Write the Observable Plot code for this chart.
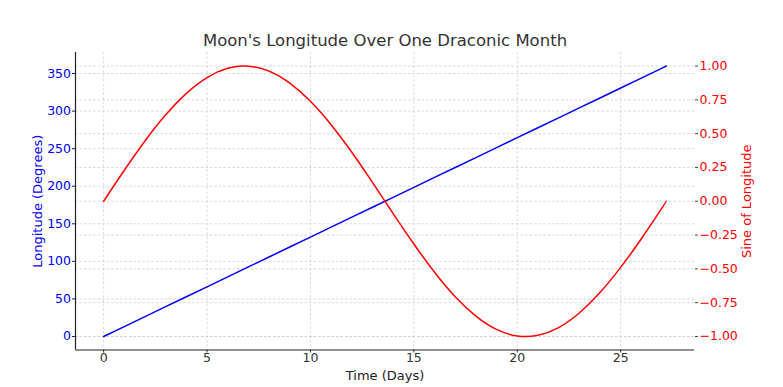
<!DOCTYPE html>
<html><head><meta charset="utf-8">
<script src="https://cdn.jsdelivr.net/npm/d3@7"></script>
<script src="https://cdn.jsdelivr.net/npm/@observablehq/plot@0.6"></script>
<style>body{margin:0;background:#fff;font-family:"DejaVu Sans",sans-serif}</style>
</head><body><div id="chart"></div>
<script>
const days = [0,1,2,3,4,5,6,7,8,9,10,11,12,13,14,15,16,17,18,19,20,21,22,23,24,25,26,27,27.21];
const longitude = [0,13.2,26.5,39.7,52.9,66.1,79.4,92.6,105.8,119.1,132.3,145.5,158.8,172.0,185.2,198.4,211.7,224.9,238.1,251.4,264.6,277.8,291.0,304.3,317.5,330.7,343.9,357.2,360];
const sineLon = [0,0.229,0.446,0.639,0.798,0.915,0.983,0.999,0.962,0.874,0.740,0.566,0.362,0.139,-0.091,-0.316,-0.525,-0.706,-0.849,-0.948,-0.996,-0.991,-0.934,-0.826,-0.675,-0.489,-0.277,-0.049,0];
const xTicks = [0,5,10,15,20,25];
const leftTicks = [0,50,100,150,200,250,300,350];
const rightTicks = [-1,-0.75,-0.5,-0.25,0,0.25,0.5,0.75,1];

// map right-axis (sine) values onto the left scale: [-1.1,1.1] <-> [-18,378]
const s2l = s => 180 * s + 180;
const xDomain = [-1.36, 28.57];
const yDomain = [-18, 378];

const blueData = days.map((d, i) => ({d, v: longitude[i]}));
const redData = days.map((d, i) => ({d, v: s2l(sineLon[i])}));
const fmt = s => (s < 0 ? "\u2212" : "") + Math.abs(s).toFixed(2);
const grid = {stroke: "#cfcfcf", strokeOpacity: 1, strokeDasharray: "2.5,2", strokeWidth: 0.8};

const plot = Plot.plot({
  width: 783, height: 387,
  marginLeft: 75, marginRight: 89, marginTop: 52, marginBottom: 37.5,
  style: {fontFamily: "DejaVu Sans, sans-serif", fontSize: "12.5px", background: "#fff"},
  x: {domain: xDomain},
  y: {domain: yDomain},
  marks: [
    Plot.gridX(xTicks, grid),
    Plot.gridY(leftTicks, grid),
    Plot.gridY(rightTicks.map(s2l), grid),
    Plot.line(blueData, {x: "d", y: "v", stroke: "blue", strokeWidth: 1.5}),
    Plot.line(redData, {x: "d", y: "v", stroke: "red", strokeWidth: 1.5, curve: "natural"}),
    Plot.axisX(xTicks, {tickSize: 3, tickPadding: 0, stroke: "#333", fill: "#333", fontSize: 12.5, label: null}),
    Plot.axisY(leftTicks, {anchor: "left", tickSize: 3, tickPadding: 1.5, stroke: "#222", fill: "blue", fontSize: 12.5, label: null}),
    Plot.axisY(rightTicks.map(s2l), {anchor: "right", tickSize: 3, tickPadding: 2, tickFormat: v => fmt((v - 180) / 180), stroke: "#444", fill: "red", fontSize: 12.5, label: null}),
    Plot.ruleX([xDomain[0]], {stroke: "#222", strokeWidth: 1.2}),
    Plot.ruleY([yDomain[0]], {stroke: "#222", strokeWidth: 1.2}),
    Plot.text(["Moon's Longitude Over One Draconic Month"], {frameAnchor: "top", dy: -12, lineAnchor: "middle", fontSize: 16.5, fill: "#333", textAnchor: "middle"}),
    Plot.text(["Time (Days)"], {frameAnchor: "bottom", dy: 26, lineAnchor: "middle", fontSize: 13, fill: "#222", textAnchor: "middle"}),
    Plot.text(["Longitude (Degrees)"], {frameAnchor: "left", dx: -38, rotate: -90, fontSize: 13, fill: "blue", textAnchor: "middle"}),
    Plot.text(["Sine of Longitude"], {frameAnchor: "right", dx: 52, rotate: -90, fontSize: 13, fill: "red", textAnchor: "middle"})
  ]
});
document.getElementById("chart").appendChild(plot);
</script></body></html>
